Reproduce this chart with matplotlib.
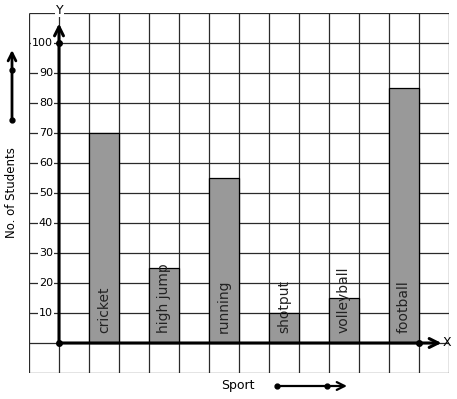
import matplotlib
matplotlib.use("Agg")
import matplotlib.pyplot as plt
import numpy as np

sports = ["cricket", "high jump", "running", "shotput", "volleyball", "football"]
students = [70, 25, 55, 10, 15, 85]
bar_pos = [1.5, 3.5, 5.5, 7.5, 9.5, 11.5]
ytick_vals = [10, 20, 30, 40, 50, 60, 70, 80, 90, 100]

W, H = 457, 399
fig = plt.figure(figsize=(W / 100, H / 100), dpi=100)
ax = fig.add_axes([29 / W, 1 - 373 / H, 420 / W, 360 / H])
ax.set_xlim(-1, 13)
ax.set_ylim(-10, 110)
ax.axis("off")

gc = "#2a2a2a"
for xv in np.arange(-1, 14):
    ax.plot([xv, xv], [-10, 110], color=gc, lw=0.9, zorder=1, solid_capstyle="butt")
for yv in np.arange(-10, 111, 10):
    ax.plot([-1, 13], [yv, yv], color=gc, lw=0.9, zorder=1, solid_capstyle="butt")

ax.bar(bar_pos, students, width=1.0, color="#999999", edgecolor="black",
       linewidth=0.9, zorder=2)

for x, name in zip(bar_pos, sports):
    ax.text(x, 3.3, name, rotation=90, ha="center", va="bottom",
            fontsize=10, color="#222222", zorder=5)

for v in ytick_vals:
    ax.text(-0.2, v, str(v), ha="right", va="center", fontsize=8, zorder=4,
            bbox=dict(facecolor="white", edgecolor="none", pad=0.6))

# axes with arrows
ax.annotate("", xy=(12.75, 0), xytext=(0, 0),
            arrowprops=dict(arrowstyle="->", lw=2.2, color="black",
                            mutation_scale=16, shrinkA=0, shrinkB=0), zorder=6)
ax.annotate("", xy=(0, 106.5), xytext=(0, 0),
            arrowprops=dict(arrowstyle="->", lw=2.2, color="black",
                            mutation_scale=16, shrinkA=0, shrinkB=0), zorder=6)
ax.plot([0, 0, 12], [0, 100, 0], "o", color="black", ms=4, zorder=7, clip_on=False)

ax.text(0.03, 111, "Y", ha="center", va="center", fontsize=9, clip_on=False, zorder=6,
        bbox=dict(facecolor="white", edgecolor="none", pad=0.5))
ax.text(12.8, 0, "X", ha="left", va="center", fontsize=9, clip_on=False, zorder=6)

# side labels and decorative arrows
fig.text(12 / W, 206 / H, "No. of Students", rotation=90, ha="center", va="center", fontsize=8.5)
fig.text(238 / W, 14 / H, "Sport", ha="center", va="center", fontsize=9)

fig.add_artist(matplotlib.patches.FancyArrowPatch((12, 279), (12, 349), transform=None,
               arrowstyle="->", mutation_scale=14, lw=2, color="black", shrinkA=0, shrinkB=0))
fig.add_artist(matplotlib.patches.FancyArrowPatch((277, 13), (347, 13), transform=None,
               arrowstyle="->", mutation_scale=14, lw=1.6, color="black", shrinkA=0, shrinkB=0))
for px, py in [(12, 279), (12, 329), (277, 13), (327, 13)]:
    fig.add_artist(matplotlib.lines.Line2D([px], [py], marker="o", ms=3.5, color="black",
                                           transform=None))

fig.savefig("out.png", dpi=100, facecolor="white")
